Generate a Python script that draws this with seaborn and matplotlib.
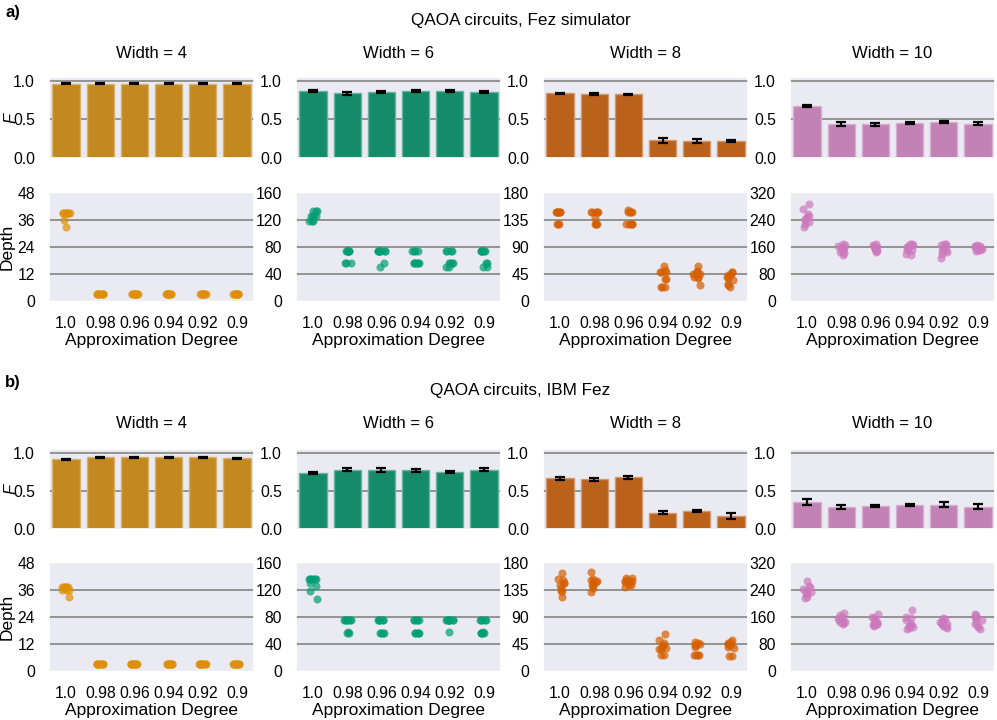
import numpy as np
import pandas as pd
import matplotlib
matplotlib.use("Agg")
import matplotlib.pyplot as plt
import seaborn as sns

# ---------------- data ----------------
approx_labels = ["1.0", "0.98", "0.96", "0.94", "0.92", "0.9"]
widths = [4, 6, 8, 10]
panel_titles = ["QAOA circuits, Fez simulator", "QAOA circuits, IBM Fez"]
panel_tags = ["a)", "b)"]
depth_ticks = {4: [0, 12, 24, 36, 48], 6: [0, 40, 80, 120, 160],
               8: [0, 45, 90, 135, 180], 10: [0, 80, 160, 240, 320]}

# Fidelity means and error half-widths (Fez simulator)
f_sim_w4 = [0.965, 0.962, 0.965, 0.962, 0.963, 0.963]
f_sim_w6 = [0.870, 0.840, 0.857, 0.868, 0.865, 0.857]
f_sim_w8 = [0.839, 0.830, 0.826, 0.230, 0.220, 0.220]
f_sim_w10 = [0.674, 0.440, 0.440, 0.450, 0.470, 0.443]
e_sim_w4 = [0.010, 0.006, 0.006, 0.008, 0.006, 0.008]
e_sim_w6 = [0.015, 0.020, 0.010, 0.018, 0.012, 0.010]
e_sim_w8 = [0.008, 0.010, 0.010, 0.030, 0.020, 0.015]
e_sim_w10 = [0.010, 0.025, 0.020, 0.015, 0.015, 0.020]

# Fidelity means and error half-widths (IBM Fez)
f_hw_w4 = [0.914, 0.940, 0.940, 0.944, 0.940, 0.927]
f_hw_w6 = [0.733, 0.776, 0.770, 0.772, 0.750, 0.780]
f_hw_w8 = [0.664, 0.655, 0.677, 0.216, 0.237, 0.172]
f_hw_w10 = [0.353, 0.289, 0.302, 0.315, 0.319, 0.293]
e_hw_w4 = [0.008, 0.006, 0.006, 0.006, 0.006, 0.008]
e_hw_w6 = [0.015, 0.020, 0.025, 0.018, 0.010, 0.025]
e_hw_w8 = [0.018, 0.020, 0.018, 0.015, 0.015, 0.040]
e_hw_w10 = [0.040, 0.030, 0.018, 0.015, 0.030, 0.030]

# Circuit depths (Fez simulator)
d_sim_w4 = [[39, 39, 39, 39, 39, 39, 39, 39, 36, 33],
            [3] * 10, [3] * 10, [3] * 10, [3] * 10, [3] * 10]
d_sim_w6 = [[134, 134, 126, 126, 126, 118, 118, 118, 126, 134],
            [74, 74, 74, 74, 74, 74, 74, 56, 56, 56],
            [74, 74, 74, 74, 74, 74, 74, 56, 51, 74],
            [74, 74, 74, 74, 56, 56, 56, 56, 56, 56],
            [74, 74, 74, 74, 56, 56, 56, 56, 51, 51],
            [74, 74, 74, 74, 74, 74, 56, 56, 51, 51]]
d_sim_w8 = [[148, 148, 148, 148, 148, 148, 148, 128, 128, 128],
            [148, 148, 148, 148, 148, 138, 128, 128, 128, 128],
            [148, 148, 148, 152, 148, 128, 128, 128, 128, 128],
            [58, 51, 49, 49, 49, 37, 37, 23, 23, 23],
            [58, 50, 49, 45, 45, 40, 39, 40, 27, 45],
            [49, 49, 45, 43, 40, 38, 35, 28, 26, 23]]
d_sim_w10 = [[288, 274, 259, 252, 248, 244, 239, 234, 229, 220],
             [168, 165, 162, 160, 156, 152, 150, 146, 142, 136],
             [170, 166, 162, 160, 158, 155, 152, 150, 148, 145],
             [170, 168, 165, 162, 160, 156, 152, 150, 140, 136],
             [170, 168, 165, 162, 158, 152, 148, 145, 138, 128],
             [166, 164, 162, 160, 158, 156, 154, 152, 150, 148]]

# Circuit depths (IBM Fez)
d_hw_w4 = [[37.5, 37.5, 37.5, 37.5, 37.5, 37.5, 36, 36, 36, 33],
           [3] * 10, [3] * 10, [3] * 10, [3] * 10, [3] * 10]
d_hw_w6 = [[136, 136, 136, 136, 136, 136, 126, 118, 107, 130],
           [76, 76, 76, 76, 76, 76, 58, 56, 56, 76],
           [76, 76, 76, 76, 76, 56, 56, 56, 56, 76],
           [76, 76, 76, 76, 76, 56, 56, 56, 56, 56],
           [76, 76, 76, 76, 76, 76, 58, 76, 76, 76],
           [76, 76, 76, 76, 76, 56, 56, 56, 58, 56]]
d_hw_w8 = [[164, 154, 152, 147, 147, 143, 139, 133, 133, 124],
           [165, 154, 152, 150, 148, 148, 143, 143, 132, 138],
           [155, 155, 152, 150, 150, 148, 143, 143, 140, 148],
           [61, 51, 47, 43, 40, 38, 36, 36, 26, 26],
           [48, 46, 45, 43, 43, 40, 26, 26, 26, 26],
           [51, 49, 47, 45, 43, 40, 38, 25, 25, 43]]
d_hw_w10 = [[266, 252, 248, 242, 238, 234, 230, 227, 220, 216],
            [171, 165, 160, 156, 152, 150, 146, 144, 142, 140],
            [168, 160, 156, 150, 146, 142, 140, 138, 136, 134],
            [180, 160, 156, 150, 140, 136, 132, 130, 128, 124],
            [158, 154, 150, 146, 142, 140, 138, 134, 130, 126],
            [170, 166, 160, 156, 150, 146, 140, 134, 130, 124]]

fid = [[f_sim_w4, f_sim_w6, f_sim_w8, f_sim_w10], [f_hw_w4, f_hw_w6, f_hw_w8, f_hw_w10]]
err = [[e_sim_w4, e_sim_w6, e_sim_w8, e_sim_w10], [e_hw_w4, e_hw_w6, e_hw_w8, e_hw_w10]]
dep = [[d_sim_w4, d_sim_w6, d_sim_w8, d_sim_w10], [d_hw_w4, d_hw_w6, d_hw_w8, d_hw_w10]]

# ---------------- style ----------------
sns.set_theme(style="darkgrid")
plt.rcParams["font.family"] = ["Liberation Sans", "DejaVu Sans"]
plt.rcParams.update({
    "grid.color": "#8c8c8c", "grid.linewidth": 1.3,
    "text.color": "black", "axes.labelcolor": "black",
    "xtick.color": "black", "ytick.color": "black",
    "axes.facecolor": "#eaeaf2",
})
palette = sns.color_palette("colorblind")
colors = [palette[1], palette[2], palette[3], palette[4]]

W, H = 997, 720
fig = plt.figure(figsize=(W / 100, H / 100), dpi=100)


def add_ax(left, top, right, bottom):
    return fig.add_axes([left / W, 1 - bottom / H, (right - left) / W, (bottom - top) / H])


col_left = [49, 296, 543, 790]
col_w = 205
panel_geom = [
    dict(tag_y=12, title_y=20, wtitle_y=53, bar=(77, 158), dep=(193, 301)),
    dict(tag_y=383, title_y=391, wtitle_y=424, bar=(449, 529), dep=(563, 671)),
]

TICK = 11.3
LAB = 12.5

for p in range(2):
    g = panel_geom[p]
    fig.text(5 / W, 1 - g["tag_y"] / H, panel_tags[p], fontsize=12, fontweight="bold",
             ha="left", va="center")
    fig.text(0.5 + 22 / W, 1 - g["title_y"] / H, panel_titles[p], fontsize=12.3,
             ha="center", va="center")
    for c, w in enumerate(widths):
        color = colors[c]
        # ---- fidelity bars ----
        axb = add_ax(col_left[c], g["bar"][0], col_left[c] + col_w, g["bar"][1])
        dfb = pd.DataFrame({"approx": approx_labels, "F": fid[p][c]})
        sns.barplot(data=dfb, x="approx", y="F", order=approx_labels, color=color,
                    errorbar=None, ax=axb, width=0.8, saturation=0.75, linewidth=0)
        for patch in axb.patches:
            fc = patch.get_facecolor()
            patch.set_edgecolor(tuple(0.65 * np.array(fc[:3]) + 0.35) + (1,))
            patch.set_linewidth(1.0)
        axb.errorbar(x=np.arange(len(approx_labels)), y=fid[p][c], yerr=err[p][c],
                     fmt="none", ecolor="black", elinewidth=1.6, capsize=3.5,
                     capthick=1.6, zorder=5)
        axb.set_ylim(0, 1.05)
        axb.set_xlim(-0.5, 5.5)
        axb.set_yticks([0, 0.5, 1.0])
        axb.set_yticklabels(["0.0", "0.5", "1.0"])
        axb.set_xticks([])
        axb.set_xlabel("")
        axb.grid(axis="x", visible=False)
        axb.tick_params(axis="y", labelsize=TICK, pad=4)
        if c == 0:
            axb.set_ylabel("F", fontsize=12, style="italic")
            axb.yaxis.label.set_verticalalignment("center")
            axb.yaxis.set_label_coords((10.5 - 49) / col_w, 0.5)
        else:
            axb.set_ylabel("")
        fig.text((col_left[c] + col_w / 2) / W, 1 - g["wtitle_y"] / H, f"Width = {w}",
                 fontsize=12, ha="center", va="center")

        # ---- depth strip ----
        axd = add_ax(col_left[c], g["dep"][0], col_left[c] + col_w, g["dep"][1])
        rows_x, rows_y = [], []
        for i, lab in enumerate(approx_labels):
            for v in dep[p][c][i]:
                rows_x.append(lab)
                rows_y.append(v)
        dfd = pd.DataFrame({"approx": rows_x, "Depth": rows_y})
        np.random.seed(7 + 4 * p + c)
        sns.stripplot(data=dfd, x="approx", y="Depth", order=approx_labels, color=color,
                      alpha=0.7, size=5.8, jitter=0.11, linewidth=0, ax=axd)
        axd.set_xlim(-0.5, 5.5)
        ticks = depth_ticks[w]
        axd.set_ylim(0, ticks[-1])
        axd.set_yticks(ticks)
        axd.grid(axis="x", visible=False)
        axd.tick_params(axis="y", labelsize=TICK, pad=4)
        axd.tick_params(axis="x", labelsize=TICK, pad=4.5)
        axd.set_xlabel("Approximation Degree", fontsize=LAB, labelpad=2)
        if c == 0:
            axd.set_ylabel("Depth", fontsize=LAB)
            axd.yaxis.set_label_coords(-0.166, 0.5)
        else:
            axd.set_ylabel("")

fig.savefig("out.png", dpi=100)
